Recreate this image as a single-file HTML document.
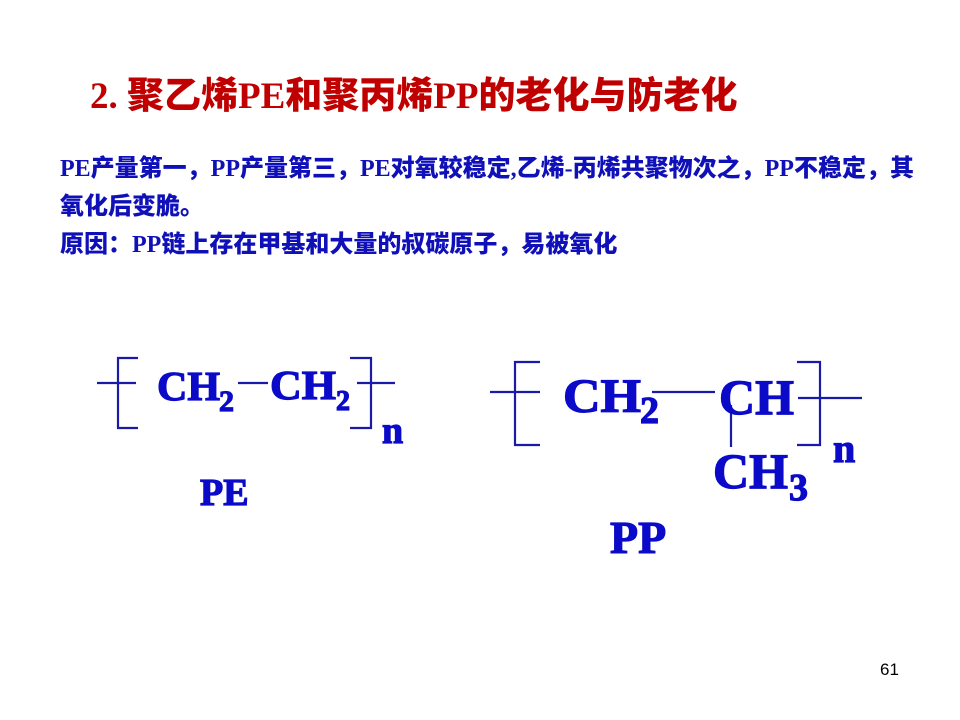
<!DOCTYPE html>
<html><head><meta charset="utf-8"><style>
body{margin:0;width:960px;height:720px;background:#fff;position:relative;overflow:hidden}
.t{position:absolute;white-space:nowrap;font-weight:900}
.title{left:90px;top:65px;font-size:37px;color:#c00000;font-family:"Liberation Serif","Noto Sans CJK SC",serif}
.b{left:60px;font-size:24px;color:#1010b8;font-family:"Liberation Serif","Noto Sans CJK SC",serif}
.num{position:absolute;left:880px;top:660px;font:17px "Liberation Sans",sans-serif;color:#000}
svg text{font-family:"Liberation Serif",serif;font-weight:bold;stroke:#0a0ac8;stroke-width:1.2}
</style></head><body>
<div class="t title">2. 聚乙烯PE和聚丙烯PP的老化与防老化</div>
<div class="t b" style="top:148px">PE产量第一，PP产量第三，PE对氧较稳定,乙烯-丙烯共聚物次之，PP不稳定，其</div>
<div class="t b" style="top:186px">氧化后变脆。</div>
<div class="t b" style="top:224px">原因：PP链上存在甲基和大量的叔碳原子，易被氧化</div>
<svg width="960" height="720" style="position:absolute;left:0;top:0" fill="#0a0ac8">
<g stroke="#1a1aa8" stroke-width="2.2" fill="none">
<line x1="97" y1="383" x2="136" y2="383"/>
<polyline points="138,358 118,358 118,428 138,428"/>
<line x1="238" y1="383" x2="268" y2="383"/>
<polyline points="350,358 371,358 371,428 350,428"/>
<line x1="357" y1="383" x2="395" y2="383"/>
<line x1="490" y1="392" x2="540" y2="392"/>
<polyline points="540,362 515,362 515,445 540,445"/>
<line x1="652" y1="392" x2="715" y2="392"/>
<line x1="731" y1="405" x2="731" y2="447"/>
<polyline points="797,362 820,362 820,445 797,445"/>
<line x1="798" y1="398" x2="862" y2="398"/>
</g>
<text x="157" y="400" font-size="41" textLength="63" lengthAdjust="spacingAndGlyphs">CH</text>
<text x="219" y="411" font-size="30">2</text>
<text x="270" y="399" font-size="41" textLength="66" lengthAdjust="spacingAndGlyphs">CH</text>
<text x="336" y="410" font-size="28">2</text>
<text x="382" y="443" font-size="38">n</text>
<text x="200" y="505" font-size="38">PE</text>
<text x="563" y="412" font-size="48" textLength="78" lengthAdjust="spacingAndGlyphs">CH</text>
<text x="640" y="423" font-size="38">2</text>
<text x="719" y="414" font-size="50">CH</text>
<text x="833" y="462" font-size="40">n</text>
<text x="713" y="488" font-size="50">CH</text>
<text x="789" y="500" font-size="38">3</text>
<text x="610" y="553" font-size="46">PP</text>
</svg>
<div class="num">61</div>
</body></html>
